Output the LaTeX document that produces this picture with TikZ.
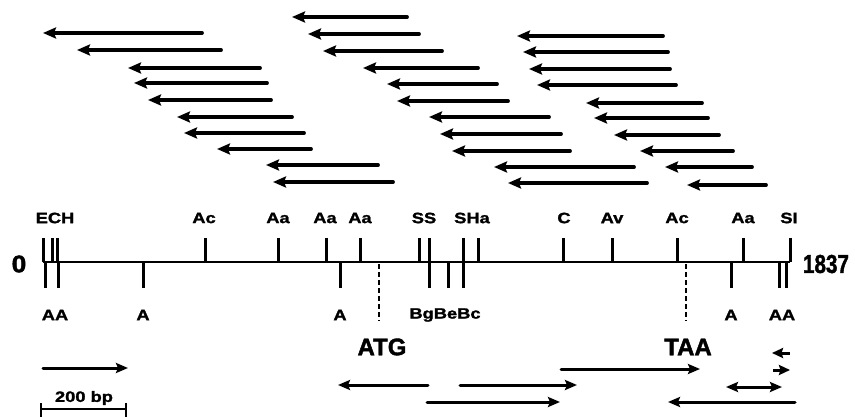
\documentclass[tikz,border=0pt]{standalone}
\usepackage{fontspec}
\setmainfont{Liberation Sans}
\newfontfamily\labfont{Liberation Sans Bold}[FakeStretch=1.22, FakeBold=1.6]
\newfontfamily\bigfont{Liberation Sans Bold}[FakeBold=1.8]
\usetikzlibrary{arrows.meta}

\begin{document}
\begin{tikzpicture}[x=1pt,y=-1pt,
  tipL/.tip={Stealth[length=13pt,width=11pt,inset=2pt]},
  tipS/.tip={Stealth[length=12pt,width=10pt,inset=2pt]},
  frag/.style={line width=3.8pt, line cap=round, -tipL},
  lowfrag/.style={line width=3pt, line cap=round, -tipS},
  lowboth/.style={line width=3pt, line cap=round, tipS-tipS},
  stub/.style={line width=3pt, -{Stealth[length=11pt,width=10pt,inset=1.5pt]}},
  axis/.style={line width=2.5pt},
  cut/.style={line width=3pt},
  start/.style={line width=2.8pt, dash pattern=on 5pt off 3pt},
  site/.style={font=\labfont\fontsize{15}{18}\selectfont, inner sep=0pt},
  big/.style={font=\bigfont\fontsize{24}{28}\selectfont, inner sep=0pt}
]
\useasboundingbox (0,0) rectangle (855,417);

% sequenced fragments, left block
\foreach \t/\h/\y in {202/43/33, 221/77/50, 260/128/68, 267/134/83, 271/148/100,
    292/177/117, 304/184/133, 311/217/149, 378/266/165, 393/273/182}
  \draw[frag] (\t,\y) -- (\h,\y);
% middle block
\foreach \t/\h/\y in {407/292/17, 419/308/34, 442/323/51, 478/363/68, 497/387/84,
    508/397/101, 549/429/117, 561/440/134, 570/452/151, 634/494/167, 647/508/183}
  \draw[frag] (\t,\y) -- (\h,\y);
% right block
\foreach \t/\h/\y in {663/517/36, 668/523/52, 670/529/69, 676/537/85, 702/586/103,
    708/594/118, 719/614/135, 733/640/151, 752/665/167, 766/687/185}
  \draw[frag] (\t,\y) -- (\h,\y);

% restriction map
\coordinate (m0) at (43,262);
\coordinate (m1) at (790,262);
\draw[axis] (m0) -- (m1);
\foreach \x in {43,52,57,205,278,326,360,419,429,463,478,563,612,677,743,790}
  \draw[cut] (\x,238) -- (\x,262);
\foreach \x in {45,58,143,340,429,448,463,731,779,786}
  \draw[cut] (\x,262) -- (\x,288);
\draw[start] (379,264) -- (379,321);
\draw[start] (686,264) -- (686,321);

\node[big] (zero) at (19,264) {\scalebox{1.1}[1]{0}};
\node[big] (len) at (826,264) {\scalebox{0.86}[1.08]{1837}};

% sites above the line
\node[site] (sECH) at (55,218) {ECH};
\node[site] (sAc1) at (204,218) {Ac};
\node[site] (sAa1) at (278,218) {Aa};
\node[site] (sAa2) at (325,218) {Aa};
\node[site] (sAa3) at (360,218) {Aa};
\node[site] (sSS) at (424,218) {SS};
\node[site] (sSHa) at (472,218) {SHa};
\node[site] (sC) at (564,218) {C};
\node[site] (sAv) at (612,218) {Av};
\node[site] (sAc2) at (677,218) {Ac};
\node[site] (sAa4) at (743,218) {Aa};
\node[site] (sSI) at (789,218) {SI};

% sites below the line
\node[site] (bAA1) at (55,315) {AA};
\node[site] (bA1) at (143,315) {A};
\node[site] (bA2) at (340,315) {A};
\node[site] (bB) at (445,315) {BgBeBc};
\node[site] (bA3) at (731,315) {A};
\node[site] (bAA2) at (782,315) {AA};

\node[big] (atg) at (382,347) {ATG};
\node[big] (taa) at (688,347) {TAA};

% fragments sequenced on the other strand
\draw[lowfrag] (43,368) -- (128,368);
\draw[lowfrag] (428,385) -- (338,385);
\draw[lowfrag] (460,385) -- (577,385);
\draw[lowfrag] (427,402) -- (560,402);
\draw[lowfrag] (561,369) -- (700,369);
\draw[lowfrag] (795,402) -- (668,402);
\draw[lowboth] (726,387) -- (782,387);
\draw[stub] (790,353) -- (772,353);
\draw[stub] (773,370) -- (790,370);

% scale bar
\draw[axis] (41,409) -- (126,409);
\draw[axis] (41,403) -- (41,417);
\draw[axis] (126,403) -- (126,417);
\node[site] (bar) at (84,398) {200 bp};
\end{tikzpicture}
\end{document}
